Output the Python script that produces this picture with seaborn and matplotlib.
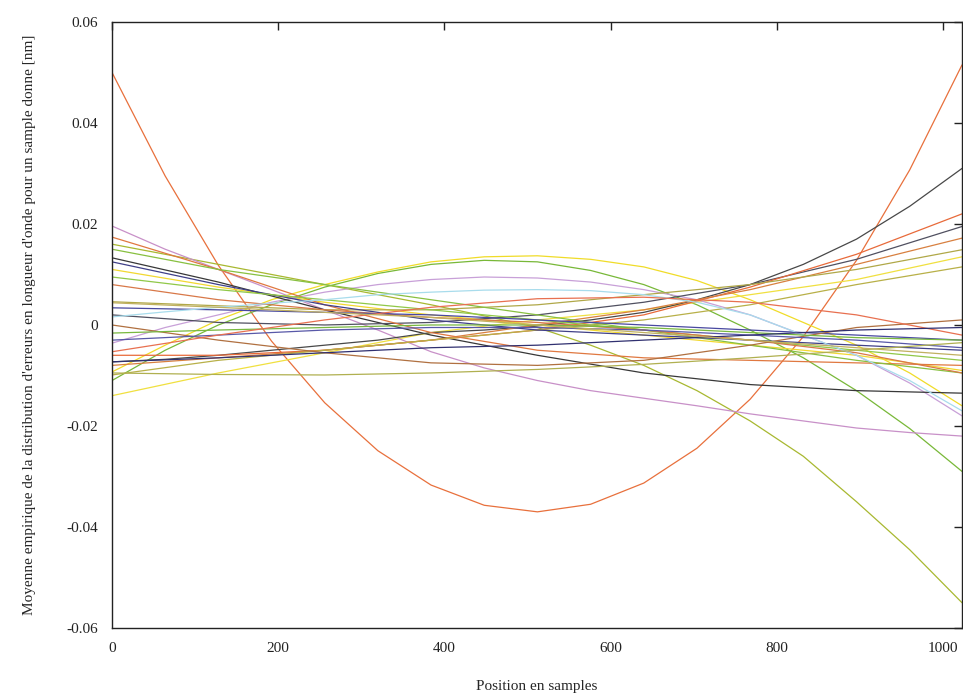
import pandas as pd
import matplotlib
matplotlib.use('Agg')
import matplotlib.pyplot as plt
import seaborn as sns

x_pos = [0, 128, 256, 384, 512, 640, 768, 896, 1023]
x_fine = [0, 64, 128, 192, 256, 320, 384, 448, 512, 576, 640, 704, 768, 832, 896, 960, 1023]

# strongly curved fits, read at the finer positions
c01 = [0.050, 0.0295, 0.0118, -0.0032, -0.0154, -0.0249, -0.0317, -0.0357, -0.0370,
       -0.0355, -0.0313, -0.0244, -0.0147, -0.0023, 0.0128, 0.0307, 0.0515]
c02 = [0.016, 0.014, 0.012, 0.010, 0.008, 0.006, 0.004, 0.0018, -0.0005,
       -0.004, -0.008, -0.013, -0.019, -0.026, -0.035, -0.0445, -0.055]
c03 = [-0.011, -0.005, 0.000, 0.004, 0.0075, 0.0102, 0.012, 0.0128, 0.0125,
       0.0108, 0.008, 0.004, -0.001, -0.0065, -0.013, -0.0205, -0.029]
c04 = [-0.0093, -0.004, 0.001, 0.005, 0.008, 0.0105, 0.0125, 0.0135, 0.0137,
       0.013, 0.0115, 0.0088, 0.005, 0.0005, -0.004, -0.0095, -0.016]
c07 = [0.0196, 0.015, 0.011, 0.007, 0.003, -0.001, -0.0053, -0.0085, -0.011,
       -0.013, -0.0145, -0.016, -0.0176, -0.019, -0.0204, -0.0213, -0.022]
c08 = [-0.0036, -0.0005, 0.002, 0.0045, 0.0065, 0.008, 0.009, 0.0095, 0.0093,
       0.0085, 0.007, 0.005, 0.002, -0.002, -0.006, -0.0115, -0.018]
c10 = [-0.0073, -0.0068, -0.006, -0.005, -0.004, -0.003, -0.0015, -0.001, -0.0002,
       0.001, 0.0025, 0.005, 0.008, 0.012, 0.017, 0.0235, 0.031]
c22 = [0.0016, 0.0026, 0.0035, 0.0043, 0.005, 0.006, 0.0065, 0.0069, 0.007,
       0.0068, 0.006, 0.0045, 0.002, -0.002, -0.006, -0.011, -0.017]

# gentler fits, read at the coarse positions
c05 = [-0.014, -0.0095, -0.0055, -0.0015, 0.001, 0.003, 0.006, 0.009, 0.0135]
c06 = [0.011, 0.0075, 0.0045, 0.002, 0.000, -0.002, -0.004, -0.006, -0.009]
c09 = [0.0133, 0.0085, 0.003, -0.002, -0.006, -0.0095, -0.0118, -0.013, -0.0135]
c11 = [0.002, 0.0005, 0.000, 0.0005, 0.002, 0.0045, 0.008, 0.013, 0.0195]
c12 = [-0.006, -0.006, -0.005, -0.003, -0.001, 0.002, 0.0075, 0.014, 0.022]
c13 = [-0.008, -0.0065, -0.005, -0.003, 0.000, 0.003, 0.007, 0.012, 0.0172]
c14 = [0.0046, 0.0038, 0.003, 0.003, 0.004, 0.006, 0.008, 0.011, 0.0149]
c15 = [-0.0099, -0.007, -0.005, -0.003, -0.001, 0.001, 0.004, 0.008, 0.0115]
c16 = [0.0174, 0.011, 0.004, -0.0015, -0.005, -0.0065, -0.007, -0.0075, -0.008]
c17 = [0.015, 0.011, 0.008, 0.005, 0.002, -0.001, -0.004, -0.007, -0.0095]
c18 = [0.0125, 0.008, 0.004, 0.001, -0.001, -0.002, -0.003, -0.004, -0.005]
c19 = [0.0095, 0.007, 0.005, 0.003, 0.001, -0.001, -0.003, -0.005, -0.007]
c20 = [0.008, 0.005, 0.003, 0.0015, 0.0005, -0.001, -0.003, -0.0055, -0.0095]
c21 = [0.0034, 0.003, 0.0025, 0.002, 0.001, 0.000, -0.001, -0.002, -0.003]
c23 = [0.000, -0.003, -0.0055, -0.0075, -0.008, -0.007, -0.004, -0.0005, 0.001]
c24 = [-0.0016, -0.001, -0.0005, 0.000, 0.000, -0.0005, -0.0015, -0.0025, -0.003]
c25 = [-0.003, -0.002, -0.001, -0.0005, -0.0005, -0.001, -0.002, -0.003, -0.0045]
c26 = [-0.0053, -0.002, 0.001, 0.0035, 0.0052, 0.0055, 0.0045, 0.002, -0.002]
c27 = [-0.0073, -0.0065, -0.0055, -0.0045, -0.004, -0.003, -0.002, -0.001, -0.0005]
c28 = [-0.0095, -0.0098, -0.0099, -0.0095, -0.0088, -0.0078, -0.0065, -0.005, -0.0035]
c29 = [0.0044, 0.0035, 0.0025, 0.0015, 0.000, -0.0015, -0.003, -0.0045, -0.006]

fine_curves = {'c01': c01, 'c02': c02, 'c03': c03, 'c04': c04,
               'c07': c07, 'c08': c08, 'c10': c10, 'c22': c22}
coarse_curves = {'c05': c05, 'c06': c06, 'c09': c09, 'c11': c11, 'c12': c12,
                 'c13': c13, 'c14': c14, 'c15': c15, 'c16': c16, 'c17': c17,
                 'c18': c18, 'c19': c19, 'c20': c20, 'c21': c21, 'c23': c23,
                 'c24': c24, 'c25': c25, 'c26': c26, 'c27': c27, 'c28': c28,
                 'c29': c29}

line_colors = {'c01': '#e8703c', 'c02': '#a8b830', 'c03': '#78b838', 'c04': '#f0dc28',
               'c05': '#f0e040', 'c06': '#f2d830', 'c07': '#c890c8', 'c08': '#c8a0d8',
               'c09': '#383838', 'c10': '#484848', 'c11': '#505060', 'c12': '#e86a3a',
               'c13': '#d88040', 'c14': '#b0a848', 'c15': '#b8b048', 'c16': '#e07840',
               'c17': '#88c040', 'c18': '#404088', 'c19': '#90c848', 'c20': '#d87848',
               'c21': '#4848a0', 'c22': '#a8dcec', 'c23': '#b07040', 'c24': '#78b840',
               'c25': '#5858a8', 'c26': '#e87050', 'c27': '#303070', 'c28': '#b0b050',
               'c29': '#c0b060'}

# long table for seaborn
rows = []
for name, ys in fine_curves.items():
    for x, y in zip(x_fine, ys):
        rows.append({'pos': x, 'err': y, 'curve': name})
for name, ys in coarse_curves.items():
    for x, y in zip(x_pos, ys):
        rows.append({'pos': x, 'err': y, 'curve': name})
df = pd.DataFrame(rows)
order = sorted(line_colors.keys())

sns.set_style('white')
plt.rcParams['font.family'] = ['Liberation Serif', 'DejaVu Serif']

fig = plt.figure(figsize=(9.63, 6.95), dpi=100)
ax = fig.add_axes([0.1163, 0.0964, 0.8827, 0.8720])

sns.lineplot(data=df, x='pos', y='err', hue='curve', hue_order=order,
             palette=line_colors, linewidth=0.9, legend=False, ax=ax)

ax.set_xlim(0, 1023)
ax.set_ylim(-0.06, 0.06)
ax.set_xticks([0, 200, 400, 600, 800, 1000])
ax.set_xticklabels(['0', '200', '400', '600', '800', '1000'])
ax.set_yticks([-0.06, -0.04, -0.02, 0, 0.02, 0.04, 0.06])
ax.set_yticklabels(['-0.06', '-0.04', '-0.02', '0', '0.02', '0.04', '0.06'])
ax.tick_params(direction='in', length=6, width=1, top=True, right=True,
               labelsize=11, pad=10, colors='#222222')
for sp in ax.spines.values():
    sp.set_color('#222222')
    sp.set_linewidth(1.0)

ax.set_xlabel('Position en samples', fontsize=11, labelpad=18)
ax.set_ylabel("Moyenne empirique de la distribution d'erreurs en longueur d'onde pour un sample donne [nm]",
              fontsize=11, labelpad=22)

plt.savefig('out.png', dpi=100)
